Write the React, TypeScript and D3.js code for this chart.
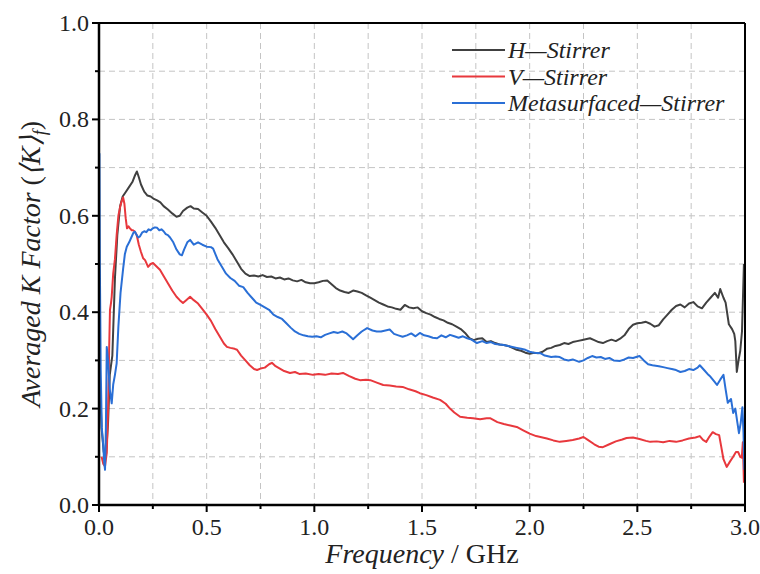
import React from "react";
import * as d3 from "d3";

type P = [number, number];

const hStirrer: P[] = [
  [0.004,0.26],[0.012,0.16],[0.022,0.11],[0.032,0.1],[0.042,0.17],[0.05,0.27],[0.056,0.29],[0.062,0.31],[0.074,0.47],[0.085,0.56],[0.098,0.62],[0.11,0.64],[0.125,0.65],[0.14,0.66],[0.155,0.67],[0.168,0.685],[0.176,0.692],[0.185,0.68],[0.195,0.665],[0.21,0.65],[0.225,0.642],[0.24,0.64],[0.255,0.635],[0.27,0.632],[0.285,0.628],[0.3,0.62],[0.32,0.613],[0.34,0.605],[0.36,0.598],[0.375,0.6],[0.39,0.61],[0.41,0.617],[0.425,0.62],[0.44,0.615],[0.46,0.614],[0.48,0.607],[0.5,0.6],[0.52,0.588],[0.54,0.575],[0.56,0.56],[0.58,0.545],[0.6,0.533],[0.62,0.52],[0.64,0.505],[0.66,0.49],[0.68,0.48],[0.7,0.475],[0.72,0.476],[0.74,0.474],[0.76,0.477],[0.78,0.473],[0.8,0.474],[0.82,0.47],[0.84,0.472],[0.86,0.468],[0.88,0.47],[0.9,0.466],[0.92,0.464],[0.94,0.467],[0.96,0.462],[0.98,0.46],[1.0,0.46],[1.02,0.462],[1.04,0.465],[1.06,0.466],[1.08,0.458],[1.1,0.45],[1.12,0.445],[1.14,0.442],[1.16,0.44],[1.18,0.445],[1.2,0.443],[1.22,0.44],[1.24,0.435],[1.26,0.43],[1.28,0.425],[1.3,0.42],[1.32,0.416],[1.34,0.412],[1.36,0.41],[1.38,0.407],[1.4,0.405],[1.42,0.415],[1.44,0.41],[1.46,0.408],[1.48,0.41],[1.5,0.402],[1.52,0.398],[1.54,0.395],[1.56,0.39],[1.58,0.386],[1.6,0.383],[1.62,0.378],[1.64,0.375],[1.66,0.37],[1.68,0.365],[1.7,0.357],[1.72,0.346],[1.74,0.342],[1.76,0.345],[1.78,0.346],[1.8,0.338],[1.82,0.34],[1.84,0.336],[1.86,0.333],[1.88,0.332],[1.9,0.33],[1.92,0.326],[1.94,0.322],[1.96,0.32],[1.98,0.316],[2.0,0.314],[2.02,0.316],[2.04,0.315],[2.06,0.318],[2.08,0.324],[2.1,0.326],[2.12,0.33],[2.14,0.332],[2.16,0.336],[2.18,0.334],[2.2,0.338],[2.22,0.34],[2.25,0.343],[2.28,0.346],[2.3,0.342],[2.32,0.338],[2.34,0.336],[2.36,0.34],[2.38,0.343],[2.4,0.34],[2.42,0.345],[2.44,0.352],[2.46,0.365],[2.48,0.374],[2.5,0.377],[2.52,0.378],[2.54,0.38],[2.56,0.376],[2.58,0.37],[2.6,0.373],[2.62,0.385],[2.64,0.395],[2.66,0.405],[2.68,0.413],[2.7,0.416],[2.72,0.41],[2.74,0.418],[2.76,0.421],[2.78,0.412],[2.8,0.408],[2.82,0.42],[2.84,0.43],[2.86,0.44],[2.875,0.43],[2.885,0.448],[2.9,0.43],[2.91,0.42],[2.925,0.375],[2.94,0.365],[2.95,0.355],[2.955,0.34],[2.962,0.276],[2.97,0.3],[2.978,0.32],[2.986,0.36],[2.995,0.5]
];

const vStirrer: P[] = [
  [0.012,0.1],[0.02,0.085],[0.028,0.08],[0.036,0.108],[0.042,0.197],[0.047,0.32],[0.051,0.405],[0.056,0.42],[0.059,0.432],[0.066,0.48],[0.074,0.51],[0.082,0.56],[0.09,0.6],[0.098,0.618],[0.105,0.63],[0.112,0.638],[0.118,0.625],[0.124,0.595],[0.13,0.574],[0.137,0.578],[0.144,0.574],[0.152,0.57],[0.158,0.57],[0.165,0.568],[0.175,0.56],[0.185,0.54],[0.195,0.525],[0.205,0.512],[0.214,0.508],[0.228,0.494],[0.24,0.5],[0.251,0.502],[0.265,0.496],[0.283,0.488],[0.3,0.475],[0.32,0.46],[0.34,0.445],[0.36,0.432],[0.375,0.425],[0.39,0.419],[0.405,0.425],[0.423,0.432],[0.44,0.425],[0.46,0.418],[0.483,0.405],[0.5,0.395],[0.52,0.382],[0.54,0.365],[0.56,0.35],[0.58,0.335],[0.594,0.328],[0.61,0.326],[0.63,0.324],[0.641,0.322],[0.66,0.31],[0.68,0.3],[0.7,0.29],[0.72,0.282],[0.734,0.28],[0.75,0.283],[0.77,0.285],[0.79,0.292],[0.803,0.295],[0.82,0.288],[0.84,0.283],[0.86,0.278],[0.887,0.274],[0.91,0.276],[0.93,0.272],[0.96,0.273],[0.994,0.27],[1.02,0.272],[1.05,0.27],[1.08,0.273],[1.11,0.272],[1.133,0.274],[1.16,0.268],[1.19,0.262],[1.212,0.259],[1.24,0.26],[1.26,0.259],[1.29,0.254],[1.32,0.249],[1.35,0.248],[1.38,0.246],[1.41,0.245],[1.44,0.24],[1.47,0.236],[1.49,0.232],[1.52,0.228],[1.55,0.223],[1.584,0.218],[1.61,0.21],[1.63,0.2],[1.65,0.192],[1.677,0.183],[1.71,0.181],[1.737,0.18],[1.77,0.178],[1.8,0.18],[1.816,0.18],[1.85,0.172],[1.88,0.168],[1.91,0.165],[1.94,0.162],[1.97,0.155],[2.0,0.148],[2.03,0.143],[2.05,0.141],[2.08,0.138],[2.11,0.134],[2.14,0.131],[2.17,0.133],[2.2,0.135],[2.23,0.138],[2.25,0.141],[2.27,0.135],[2.3,0.126],[2.32,0.121],[2.34,0.12],[2.37,0.126],[2.4,0.132],[2.43,0.136],[2.45,0.139],[2.48,0.14],[2.51,0.137],[2.54,0.133],[2.56,0.131],[2.59,0.132],[2.62,0.13],[2.65,0.133],[2.68,0.131],[2.71,0.134],[2.74,0.138],[2.77,0.14],[2.79,0.143],[2.805,0.135],[2.82,0.131],[2.835,0.142],[2.85,0.151],[2.865,0.147],[2.88,0.145],[2.89,0.12],[2.9,0.095],[2.915,0.079],[2.93,0.09],[2.945,0.1],[2.958,0.11],[2.968,0.11],[2.978,0.1],[2.985,0.098],[2.99,0.13],[2.995,0.046]
];

const metaStirrer: P[] = [
  [0.002,0.73],[0.004,0.5],[0.008,0.28],[0.013,0.16],[0.019,0.128],[0.024,0.09],[0.028,0.073],[0.032,0.16],[0.036,0.328],[0.042,0.3],[0.05,0.24],[0.059,0.211],[0.066,0.25],[0.074,0.27],[0.082,0.294],[0.09,0.37],[0.1,0.44],[0.112,0.49],[0.12,0.52],[0.129,0.536],[0.14,0.545],[0.15,0.555],[0.16,0.565],[0.167,0.567],[0.175,0.56],[0.183,0.555],[0.19,0.557],[0.2,0.565],[0.21,0.568],[0.22,0.566],[0.23,0.572],[0.24,0.57],[0.25,0.574],[0.26,0.576],[0.27,0.575],[0.28,0.57],[0.29,0.572],[0.3,0.568],[0.31,0.562],[0.32,0.56],[0.33,0.555],[0.345,0.545],[0.36,0.53],[0.375,0.52],[0.385,0.518],[0.395,0.53],[0.41,0.545],[0.423,0.55],[0.44,0.54],[0.46,0.545],[0.48,0.54],[0.5,0.536],[0.52,0.535],[0.53,0.532],[0.55,0.51],[0.57,0.495],[0.59,0.48],[0.61,0.471],[0.63,0.465],[0.65,0.455],[0.67,0.452],[0.69,0.44],[0.71,0.43],[0.73,0.42],[0.75,0.415],[0.77,0.41],[0.79,0.405],[0.81,0.395],[0.83,0.39],[0.85,0.386],[0.87,0.377],[0.89,0.368],[0.91,0.36],[0.93,0.355],[0.95,0.352],[0.97,0.35],[0.99,0.349],[1.01,0.35],[1.03,0.348],[1.05,0.353],[1.07,0.356],[1.09,0.359],[1.11,0.357],[1.13,0.36],[1.15,0.356],[1.17,0.348],[1.18,0.344],[1.2,0.352],[1.22,0.36],[1.245,0.367],[1.27,0.362],[1.29,0.36],[1.31,0.36],[1.33,0.362],[1.35,0.364],[1.37,0.355],[1.39,0.352],[1.41,0.349],[1.43,0.352],[1.45,0.356],[1.47,0.35],[1.49,0.357],[1.51,0.352],[1.53,0.35],[1.55,0.347],[1.57,0.346],[1.59,0.352],[1.61,0.348],[1.63,0.353],[1.65,0.35],[1.67,0.347],[1.69,0.35],[1.71,0.346],[1.73,0.343],[1.755,0.336],[1.78,0.34],[1.8,0.336],[1.82,0.338],[1.84,0.334],[1.86,0.333],[1.88,0.332],[1.9,0.33],[1.92,0.328],[1.94,0.326],[1.96,0.324],[1.98,0.322],[2.0,0.318],[2.02,0.316],[2.05,0.315],[2.07,0.31],[2.1,0.307],[2.12,0.308],[2.14,0.307],[2.16,0.302],[2.18,0.3],[2.2,0.302],[2.23,0.297],[2.25,0.3],[2.27,0.305],[2.29,0.309],[2.31,0.306],[2.33,0.307],[2.35,0.303],[2.37,0.305],[2.39,0.3],[2.42,0.299],[2.44,0.302],[2.46,0.306],[2.48,0.305],[2.51,0.309],[2.53,0.3],[2.55,0.292],[2.57,0.29],[2.6,0.288],[2.62,0.286],[2.64,0.284],[2.66,0.282],[2.68,0.28],[2.7,0.276],[2.72,0.278],[2.74,0.282],[2.76,0.28],[2.78,0.285],[2.79,0.29],[2.81,0.28],[2.83,0.27],[2.84,0.266],[2.86,0.255],[2.87,0.249],[2.885,0.26],[2.9,0.27],[2.91,0.24],[2.92,0.212],[2.935,0.22],[2.945,0.191],[2.955,0.2],[2.965,0.17],[2.972,0.149],[2.98,0.17],[2.988,0.203],[2.993,0.15],[2.997,0.073]
];

const seriesNames = ["H\u2014Stirrer", "V\u2014Stirrer", "Metasurfaced\u2014Stirrer"];
const seriesColors = ["#404040", "#e8383d", "#2a6fd6"];
const xTickLabels = ["0.0", "0.5", "1.0", "1.5", "2.0", "2.5", "3.0"];
const yTickLabels = ["0.0", "0.2", "0.4", "0.6", "0.8", "1.0"];

const W = 760, H = 574;
const M = { left: 99, right: 745, top: 23, bottom: 505 };
const SERIF = '"Liberation Serif", "Times New Roman", Tinos, serif';

export default function App() {
  const x = d3.scaleLinear().domain([0, 3]).range([M.left, M.right]);
  const y = d3.scaleLinear().domain([0, 1]).range([M.bottom, M.top]);
  const line = d3.line<P>().x(d => x(d[0])).y(d => y(d[1])).curve(d3.curveLinear);

  const yGrid = d3.range(1, 10).map(i => i / 10);
  const xGrid = d3.range(1, 12).map(i => i * 0.25);
  const yMinor = d3.range(1, 10, 2).map(i => i / 10);
  const xMinor = d3.range(0, 6).map(i => 0.25 + i * 0.5);
  const data = [hStirrer, vStirrer, metaStirrer];

  return (
    <svg width={W} height={H} style={{ position: "absolute", left: 0, top: 0, background: "#fff" }}>
      <style>{`.ser { font-family: ${SERIF}; }`}</style>
      <rect x={0} y={0} width={W} height={H} fill="#fff" />
      {yGrid.map(v => (
        <line key={"gy" + v} x1={M.left} x2={M.right} y1={y(v)} y2={y(v)} stroke="#c4c4c4" strokeWidth={1} strokeDasharray="6,4" />
      ))}
      {xGrid.map(v => (
        <line key={"gx" + v} x1={x(v)} x2={x(v)} y1={M.top} y2={M.bottom} stroke="#c4c4c4" strokeWidth={1} strokeDasharray="6,4" />
      ))}
      {data.map((d, i) => (
        <path key={"s" + i} d={line(d) || ""} fill="none" stroke={seriesColors[i]} strokeWidth={2} strokeLinejoin="round" />
      ))}
      <line x1={M.left} x2={M.right} y1={M.top} y2={M.top} stroke="#000" strokeWidth={2} />
      <line x1={M.right} x2={M.right} y1={M.top} y2={M.bottom} stroke="#000" strokeWidth={2} />
      <line x1={M.left} x2={M.right} y1={M.bottom} y2={M.bottom} stroke="#000" strokeWidth={2.5} />
      <line x1={M.left} x2={M.left} y1={M.top} y2={M.bottom} stroke="#000" strokeWidth={2.5} />
      {yTickLabels.map(t => (
        <g key={"yt" + t}>
          <line x1={M.left - 7} x2={M.left} y1={y(+t)} y2={y(+t)} stroke="#000" strokeWidth={2} />
          <text className="ser" x={M.left - 10} y={y(+t) + 8} fontSize={24} textAnchor="end" fill="#222">{t}</text>
        </g>
      ))}
      {yMinor.map(v => (
        <line key={"ym" + v} x1={M.left - 4} x2={M.left} y1={y(v)} y2={y(v)} stroke="#000" strokeWidth={2} />
      ))}
      {xTickLabels.map(t => (
        <g key={"xt" + t}>
          <line x1={x(+t)} x2={x(+t)} y1={M.bottom} y2={M.bottom + 7} stroke="#000" strokeWidth={2} />
          <text className="ser" x={x(+t)} y={M.bottom + 30} fontSize={24} textAnchor="middle" fill="#222">{t}</text>
        </g>
      ))}
      {xMinor.map(v => (
        <line key={"xm" + v} x1={x(v)} x2={x(v)} y1={M.bottom} y2={M.bottom + 4} stroke="#000" strokeWidth={2} />
      ))}
      <text className="ser" x={(M.left + M.right) / 2} y={563} fontSize={28} textAnchor="middle" fill="#222">
        <tspan className="ser" fontStyle="italic">Frequency</tspan>
        <tspan className="ser"> / GHz</tspan>
      </text>
      <text className="ser" transform={`translate(40, ${(M.top + M.bottom) / 2}) rotate(-90)`} fontSize={28} textAnchor="middle" fill="#222">
        <tspan className="ser" fontStyle="italic">Averaged K Factor </tspan>
        <tspan className="ser">(</tspan>
        <tspan className="ser" fontStyle="italic">{"\u27E8K\u27E9"}</tspan>
        <tspan className="ser" fontStyle="italic" fontSize={18} dy={6}>f</tspan>
        <tspan className="ser" dy={-6}>)</tspan>
      </text>
      {seriesNames.map((n, i) => {
        const ly = 50 + i * 26.5;
        return (
          <g key={"lg" + i}>
            <line x1={452} x2={505} y1={ly} y2={ly} stroke={seriesColors[i]} strokeWidth={2} />
            <text className="ser" x={508} y={ly + 8} fontSize={24} fontStyle="italic" fill="#222">{n}</text>
          </g>
        );
      })}
    </svg>
  );
}
